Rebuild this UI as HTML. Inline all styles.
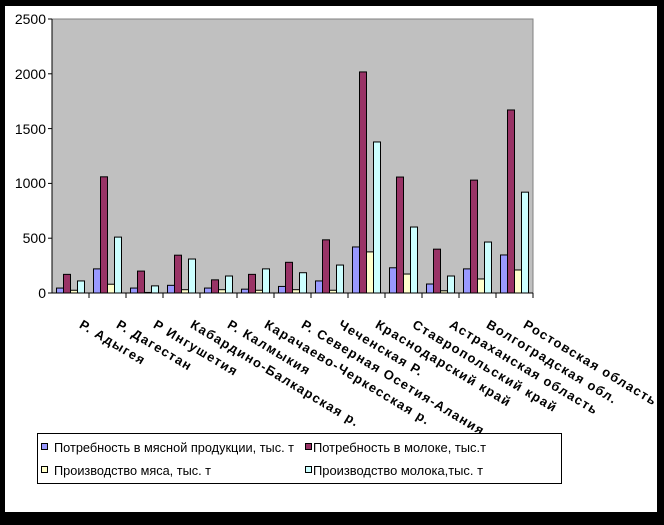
<!DOCTYPE html>
<html><head><meta charset="utf-8"><style>
body{margin:0;background:#000;}
</style></head><body>
<svg width="664" height="520" xmlns="http://www.w3.org/2000/svg" font-family="Liberation Sans, sans-serif">
<rect x="0" y="0" width="664" height="520" fill="#000"/>
<rect x="5" y="6" width="652" height="506" fill="#fff"/>
<rect x="52" y="19" width="481" height="274" fill="#c0c0c0" stroke="#808080" stroke-width="1"/>
<g id="bars" stroke="#000" stroke-width="1"></g>
<line x1="52" y1="19" x2="52" y2="293" stroke="#000"/>
<line x1="52" y1="293" x2="533" y2="293" stroke="#000"/>
<g id="ticks" stroke="#000"></g>
<g font-size="14" text-anchor="end" fill="#000">
<text x="46" y="298">0</text><text x="46" y="243">500</text><text x="46" y="188">1000</text>
<text x="46" y="134">1500</text><text x="46" y="79">2000</text><text x="46" y="24">2500</text>
</g>
<g id="labels" font-size="13" font-weight="bold" fill="#000" letter-spacing="1.3"></g>
<rect x="37.5" y="433.5" width="524" height="50" fill="#fff" stroke="#000"/>
<g font-size="13" fill="#000">
<rect x="41.5" y="443.5" width="6" height="6" fill="#9999ff" stroke="#000"/><text x="54" y="452" textLength="240" lengthAdjust="spacingAndGlyphs">Потребность в мясной продукции, тыс. т</text>
<rect x="305.5" y="443.5" width="6" height="6" fill="#993366" stroke="#000"/><text x="313" y="452" textLength="173" lengthAdjust="spacingAndGlyphs">Потребность в молоке, тыс.т</text>
<rect x="41.5" y="466.5" width="6" height="6" fill="#ffffcc" stroke="#000"/><text x="54" y="475" textLength="157" lengthAdjust="spacingAndGlyphs">Производство мяса, тыс. т</text>
<rect x="305.5" y="466.5" width="6" height="6" fill="#ccffff" stroke="#000"/><text x="313" y="475" textLength="170" lengthAdjust="spacingAndGlyphs">Производство молока,тыс. т</text>
</g>
</svg>
<script>
var d=[[45,170,25,110],[220,1060,80,510],[45,200,5,65],[70,345,30,310],[45,120,30,155],[35,170,25,220],[60,280,30,185],[110,485,25,255],[420,2017,375,1378],[230,1058,173,602],[82,400,20,155],[220,1030,128,465],[347,1670,210,920]];
var names=["Р. Адыгея","Р. Дагестан","Р Ингушетия","Кабардино-Балкарская р.","Р. Калмыкия","Карачаево-Черкесская р.","Р. Северная Осетия-Алания","Чеченская Р.","Краснодарский край","Ставропольский край","Астраханская область","Волгоградская обл.","Ростовская область"];
var col=["#9999ff","#993366","#ffffcc","#ccffff"];
var ns="http://www.w3.org/2000/svg",b=document.getElementById("bars"),t=document.getElementById("ticks"),l=document.getElementById("labels");
var cw=481/13;
for(var i=0;i<13;i++){var x0=52+cw*i+4.5;
for(var j=0;j<4;j++){var h=d[i][j]*274/2500;var r=document.createElementNS(ns,"rect");
r.setAttribute("x",x0+j*7);r.setAttribute("y",293-h);r.setAttribute("width",7);r.setAttribute("height",h);r.setAttribute("fill",col[j]);b.appendChild(r);}
var tk=document.createElementNS(ns,"line");var tx=52+cw*(i+1);tk.setAttribute("x1",tx);tk.setAttribute("x2",tx);tk.setAttribute("y1",293);tk.setAttribute("y2",298);t.appendChild(tk);
var tx2=document.createElementNS(ns,"text");var cx=52+cw*(i+0.5)+8;tx2.setAttribute("transform","translate("+cx+",327) rotate(31)");tx2.textContent=names[i];l.appendChild(tx2);}
for(var k=0;k<=5;k++){var y=293-k*54.8;var tk=document.createElementNS(ns,"line");tk.setAttribute("x1",48);tk.setAttribute("x2",52);tk.setAttribute("y1",y);tk.setAttribute("y2",y);t.appendChild(tk);}
</script>
</body></html>
